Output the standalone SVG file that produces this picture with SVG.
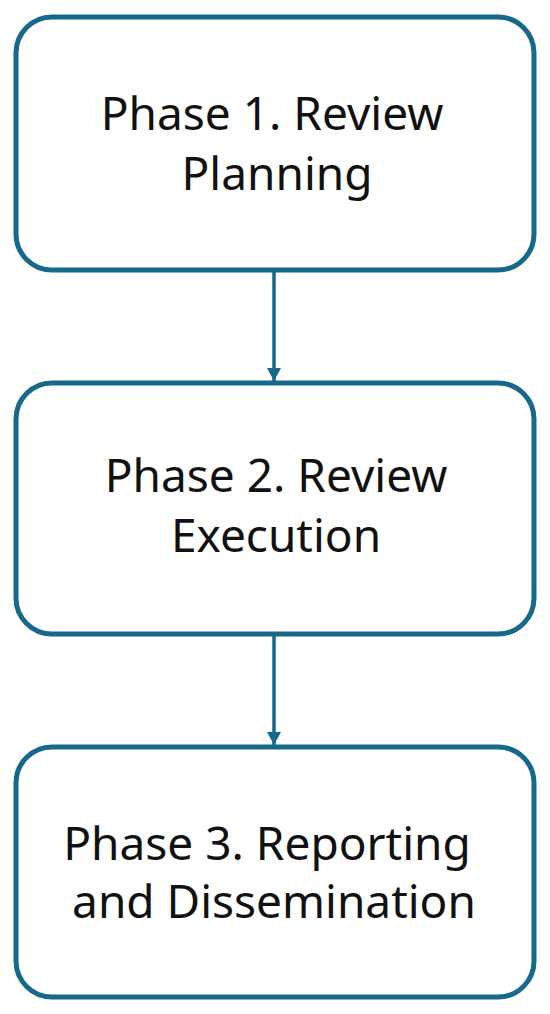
<svg xmlns="http://www.w3.org/2000/svg" width="550" height="1014" viewBox="0 0 550 1014">
  <style>
    .box { fill: #ffffff; stroke: #17698b; stroke-width: 5; }
    .label { font-family: "Noto Sans", "Open Sans", "Liberation Sans", sans-serif; font-size: 46px; fill: #111111; text-anchor: middle; }
    .conn { stroke: #17698b; stroke-width: 3.5; fill: none; }
  </style>
  <defs>
    <marker id="arrow" markerUnits="userSpaceOnUse" markerWidth="14" markerHeight="14" refX="13" refY="7" orient="auto">
      <path d="M0,0 L13,7 L0,14 Z" fill="#17698b"/>
    </marker>
  </defs>
  <rect width="550" height="1014" fill="#ffffff"/>
  <g id="connectors">
    <line class="conn" x1="274" y1="272" x2="274" y2="381" marker-end="url(#arrow)"/>
    <line class="conn" x1="274" y1="636" x2="274" y2="745" marker-end="url(#arrow)"/>
  </g>
  <g id="phase1">
    <rect class="box" x="16" y="17" width="518" height="253" rx="36" ry="36"/>
    <text class="label" x="272" y="130">Phase 1. Review</text>
    <text class="label" x="277" y="190">Planning</text>
  </g>
  <g id="phase2">
    <rect class="box" x="16" y="383" width="518" height="251" rx="36" ry="36"/>
    <text class="label" x="276" y="492">Phase 2. Review</text>
    <text class="label" x="276" y="552">Execution</text>
  </g>
  <g id="phase3">
    <rect class="box" x="16" y="747" width="518" height="250" rx="36" ry="36"/>
    <text class="label" x="267" y="860">Phase 3. Reporting</text>
    <text class="label" x="274" y="918">and Dissemination</text>
  </g>
</svg>
